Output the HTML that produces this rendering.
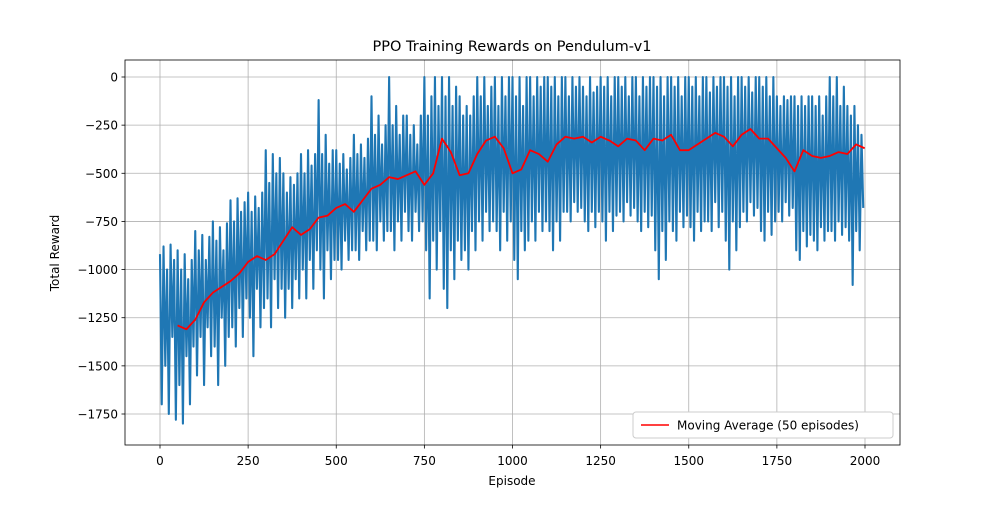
<!DOCTYPE html>
<html><head><meta charset="utf-8"><style>
body{margin:0;background:#fff;font-family:"Liberation Sans","DejaVu Sans",sans-serif}
svg text{font-family:"DejaVu Sans","Liberation Sans",sans-serif;font-size:12px;fill:#000}
</style></head><body>
<svg id="chart" width="1000" height="500" xmlns="http://www.w3.org/2000/svg">
<defs><clipPath id="clip"><rect x="125" y="60" width="775" height="385"/></clipPath></defs>
<rect width="1000" height="500" fill="#fff"/>
<text x="512" y="51" text-anchor="middle" style="font-size:14.5px">PPO Training Rewards on Pendulum-v1</text>
<g id="grid"></g>
<g id="plot" clip-path="url(#clip)"></g>
<rect x="125" y="60" width="775" height="385" fill="none" stroke="#000" stroke-width="0.8"/>
<g id="ticks"></g>
<text x="512" y="485" text-anchor="middle">Episode</text>
<text transform="translate(59,253) rotate(-90)" text-anchor="middle">Total Reward</text>
<g>
<rect x="633" y="412" width="260" height="26" rx="3" fill="#fff" stroke="#ccc"/>
<line x1="641" y1="425" x2="669" y2="425" stroke="red" stroke-width="1.5"/>
<text x="677" y="429.5">Moving Average (50 episodes)</text>
</g>
</svg>
<script>
const xTicks=[0,250,500,750,1000,1250,1500,1750,2000];
const yTicks=[0,-250,-500,-750,-1000,-1250,-1500,-1750];
const rawEpisodeStep=5;
const rawRewards=[
-920,-1700,-880,-1500,-1000,-1750,-870,-1350,-950,-1780,
-900,-1600,-1000,-1800,-920,-1450,-1050,-1700,-950,-1400,
-800,-1550,-900,-1350,-820,-1600,-950,-1300,-830,-1450,
-750,-1400,-850,-1600,-780,-1250,-900,-1500,-760,-1350,
-640,-1300,-750,-1400,-630,-1200,-700,-1350,-650,-1150,
-600,-1250,-700,-1450,-620,-1100,-680,-1300,-600,-1200,
-380,-1150,-550,-1300,-400,-1050,-500,-1200,-420,-1100,
-500,-1250,-600,-1100,-520,-1200,-560,-1050,-500,-1150,
-400,-1000,-500,-1150,-380,-950,-460,-1100,-400,-900,
-120,-1000,-400,-1150,-300,-900,-450,-1050,-380,-950,
-380,-950,-450,-1000,-400,-850,-480,-950,-420,-900,
-300,-900,-400,-950,-350,-800,-420,-900,-320,-850,
-100,-850,-300,-900,-200,-750,-350,-850,-250,-800,
0,-800,-250,-900,-150,-750,-300,-850,-200,-700,
-200,-800,-300,-850,-250,-700,-350,-800,-200,-750,
0,-900,-200,-1150,-100,-850,0,-1000,-150,-800,
0,-1100,-100,-1200,0,-900,-150,-1050,-50,-850,
-100,-950,-200,-900,-150,-1000,-200,-800,-100,-900,
0,-750,-100,-850,0,-700,-150,-800,-50,-750,
0,-800,-150,-900,0,-700,-100,-850,0,-750,
0,-950,-100,-1050,0,-800,-150,-900,0,-850,
0,-750,-100,-850,0,-700,-50,-800,0,-750,
0,-800,-50,-900,0,-750,-100,-850,0,-700,
0,-700,-100,-750,0,-650,-50,-700,0,-680,
-50,-750,-100,-800,0,-700,-80,-780,-50,-700,
0,-750,-50,-850,0,-700,-100,-800,0,-720,
0,-700,-50,-750,0,-650,-100,-720,0,-680,
0,-750,-100,-800,0,-700,-50,-780,0,-720,
0,-900,-50,-1050,0,-800,-100,-950,0,-750,
0,-800,-50,-850,0,-700,-100,-780,0,-720,
0,-780,-50,-850,0,-700,-100,-800,0,-750,
0,-750,-80,-800,0,-650,-50,-780,0,-700,
0,-850,-50,-1000,0,-750,-100,-900,0,-780,
0,-700,-50,-750,0,-650,-80,-720,0,-680,
0,-800,-50,-850,0,-700,-100,-820,0,-750,
-100,-700,-150,-750,-100,-650,-120,-720,-100,-680,
-100,-900,-150,-950,-100,-800,-150,-880,-100,-820,
-100,-850,-150,-900,-100,-780,-200,-850,-100,-800,
0,-800,-100,-850,0,-750,-150,-820,-50,-780,
-150,-850,-200,-1080,-150,-800,-250,-900,-300,-680];
const maEpisodes=[50,75,100,125,150,175,200,225,250,275,300,325,350,375,400,425,450,475,500,525,550,575,600,625,650,675,700,725,750,775,800,825,850,875,900,925,950,975,1000,1025,1050,1075,1100,1125,1150,1175,1200,1225,1250,1275,1300,1325,1350,1375,1400,1425,1450,1475,1500,1525,1550,1575,1600,1625,1650,1675,1700,1725,1750,1775,1800,1825,1850,1875,1900,1925,1950,1975,1999];
const maValues=[-1290,-1310,-1260,-1170,-1120,-1090,-1060,-1020,-960,-930,-950,-920,-850,-780,-820,-790,-730,-720,-680,-660,-700,-640,-580,-560,-520,-530,-510,-490,-560,-500,-320,-390,-510,-500,-400,-330,-310,-370,-500,-480,-380,-400,-440,-350,-310,-320,-310,-340,-310,-330,-360,-320,-330,-380,-320,-330,-300,-380,-380,-350,-320,-290,-310,-360,-300,-270,-320,-320,-370,-420,-490,-380,-410,-420,-410,-390,-400,-350,-370];

const NS='http://www.w3.org/2000/svg';
const X=v=>160+v*(705/2000);
const Y=v=>77-v*(337/1750);
const mk=(t,a,p)=>{const e=document.createElementNS(NS,t);for(const k in a)e.setAttribute(k,a[k]);p.appendChild(e);return e;};
const grid=document.getElementById('grid'),ticks=document.getElementById('ticks'),plot=document.getElementById('plot');
xTicks.forEach(t=>{
 const g=mk('line',{x1:X(t),x2:X(t),y1:60,y2:445,stroke:'#b0b0b0','stroke-width':0.8},grid);
 
 
 mk('line',{x1:X(t),x2:X(t),y1:445,y2:448.5,stroke:'#000','stroke-width':0.8},ticks);
 const tx=mk('text',{x:X(t),y:465,'text-anchor':'middle'},ticks);tx.textContent=t;
 
 
});
yTicks.forEach(t=>{
 const g=mk('line',{x1:125,x2:900,y1:Y(t),y2:Y(t),stroke:'#b0b0b0','stroke-width':0.8},grid);
 
 
 mk('line',{x1:121.5,x2:125,y1:Y(t),y2:Y(t),stroke:'#000','stroke-width':0.8},ticks);
 const tx=mk('text',{x:118,y:Y(t)+4.5,'text-anchor':'end'},ticks);tx.textContent=String(t).replace('-','\u2212');
 
 
});
const raw=mk('polyline',{points:rawRewards.map((v,i)=>X(i*rawEpisodeStep)+','+Y(v)).join(' '),fill:'none',stroke:'#1f77b4','stroke-width':2.1,'stroke-linejoin':'round'},plot);


const ma=mk('polyline',{points:maValues.map((v,i)=>X(maEpisodes[i])+','+Y(v)).join(' '),fill:'none',stroke:'red','stroke-width':1.8,'stroke-linejoin':'round'},plot);


</script>
</body></html>
